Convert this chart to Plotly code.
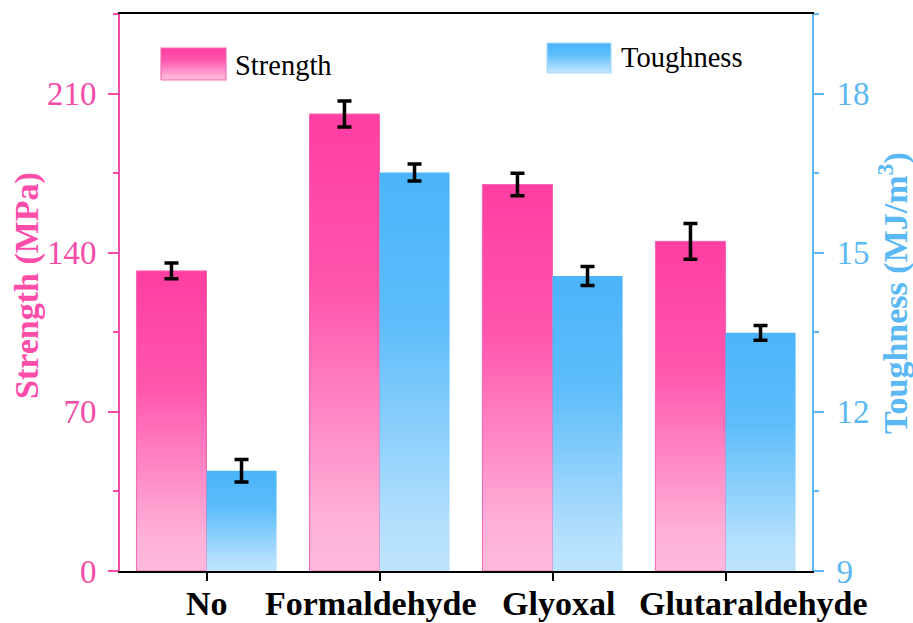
import plotly.graph_objects as go

# ---- data ----
categories = ["No", "Formaldehyde", "Glyoxal", "Glutaraldehyde"]
strength = [132, 201, 170, 145]          # MPa
strength_err = [3.5, 5.7, 4.9, 7.9]
toughness = [10.89, 16.51, 14.56, 13.49]  # MJ/m^3
toughness_err = [0.21, 0.16, 0.18, 0.14]

strength_ticks = [0, 70, 140, 210]
toughness_ticks = [9, 12, 15, 18]

# ---- styling ----
W, H = 913, 623
L, R, T, B = 120, 101, 14, 52
PW, PH = W - L - R, H - T - B
FONT = "Liberation Serif"
PINK = "#F54BA8"
PINK_TITLE = "#FF4DAA"
BLUE = "#5BB8F4"
BLUE_TITLE = "#5AB8F4"
BAR_W = 0.405
S_RANGE = [0, 245]
T_RANGE = [9, 19.5]
LABEL_SHIFT = [0, -9, 6, 28]   # horizontal nudges (px) of the category labels

pink_scale = [[0, "#FFB9DC"], [0.12, "#FFB0D8"], [0.62, "#FF55AD"], [1, "#FF3EA2"]]
blue_scale = [[0, "#BEE4FD"], [0.12, "#B3DFFD"], [0.62, "#5EBDFA"], [1, "#4BB4FA"]]


def px_x(px):
    return (px - L) / PW


def px_y(py):
    return (H - B - py) / PH


fig = go.Figure()

# bars drawn as filled rectangles so each one carries a vertical gradient
for i, v in enumerate(strength):
    x0, x1 = i - BAR_W, i
    fig.add_trace(go.Scatter(
        x=[x0, x0, x1, x1, x0], y=[0, v, v, 0, 0],
        mode="lines", fill="toself",
        line=dict(color="#F266B2", width=1),
        fillgradient=dict(type="vertical", colorscale=pink_scale, start=0, stop=v),
        hoverinfo="skip", showlegend=False, yaxis="y"))

for i, v in enumerate(toughness):
    x0, x1 = i, i + BAR_W
    fig.add_trace(go.Scatter(
        x=[x0, x0, x1, x1, x0], y=[T_RANGE[0], v, v, T_RANGE[0], T_RANGE[0]],
        mode="lines", fill="toself",
        line=dict(color="rgba(0,0,0,0)", width=0),
        fillgradient=dict(type="vertical", colorscale=blue_scale, start=T_RANGE[0], stop=v),
        hoverinfo="skip", showlegend=False, yaxis="y2"))

# error bars
err_style = dict(type="data", symmetric=True, color="black", thickness=3.5, width=7)
fig.add_trace(go.Scatter(
    x=[i - BAR_W / 2 for i in range(len(categories))], y=strength,
    mode="markers", marker=dict(size=1, color="rgba(0,0,0,0)"),
    error_y=dict(array=strength_err, **err_style),
    hoverinfo="skip", showlegend=False, yaxis="y"))
fig.add_trace(go.Scatter(
    x=[i + BAR_W / 2 for i in range(len(categories))], y=toughness,
    mode="markers", marker=dict(size=1, color="rgba(0,0,0,0)"),
    error_y=dict(array=toughness_err, **err_style),
    hoverinfo="skip", showlegend=False, yaxis="y2"))

# legend swatches on a hidden overlay axis (plot-area fractions)
legend_items = [
    ("Strength", (161, 226, 48, 80), pink_scale, "#F36FB5", 233, 65),
    ("Toughness", (547, 611, 43, 73), blue_scale, "#A9DAFB", 619, 58),
]
for name, (bx0, bx1, by0, by1), cs, edge, tx, ty in legend_items:
    xa, xb = px_x(bx0), px_x(bx1)
    ya, yb = px_y(by1), px_y(by0)
    fig.add_trace(go.Scatter(
        x=[xa, xa, xb, xb, xa], y=[ya, yb, yb, ya, ya],
        mode="lines", fill="toself", line=dict(color=edge, width=1.2),
        fillgradient=dict(type="vertical", colorscale=cs, start=ya, stop=yb),
        hoverinfo="skip", showlegend=False, xaxis="x3", yaxis="y3"))
    fig.add_annotation(
        text=name, xref="paper", yref="paper", x=px_x(tx), y=px_y(ty),
        xanchor="left", yanchor="middle", showarrow=False,
        font=dict(family=FONT, size=28.5, color="black"))

# category labels under the x ticks
for i, name in enumerate(categories):
    fig.add_annotation(
        text=name, xref="x", yref="paper", x=i, y=px_y(603),
        xshift=LABEL_SHIFT[i],
        xanchor="center", yanchor="middle", showarrow=False,
        font=dict(family=FONT, size=34, color="black", weight="bold"))

# axis titles
fig.add_annotation(
    text="Strength (MPa)", xref="paper", yref="paper",
    x=px_x(27), y=px_y(286), textangle=-90, showarrow=False,
    xanchor="center", yanchor="middle",
    font=dict(family=FONT, size=34, color=PINK_TITLE, weight="bold"))
fig.add_annotation(
    text="Toughness (MJ/m<sup>3</sup>)", xref="paper", yref="paper",
    x=px_x(893), y=px_y(293), textangle=-90, showarrow=False,
    xanchor="center", yanchor="middle",
    font=dict(family=FONT, size=34, color=BLUE_TITLE, weight="bold"))

fig.update_layout(
    width=W, height=H,
    margin=dict(l=L, r=R, t=T, b=B, autoexpand=False),
    paper_bgcolor="white", plot_bgcolor="white",
    showlegend=False,
    xaxis=dict(
        range=[-0.5, len(categories) - 0.5],
        tickvals=list(range(len(categories))), showticklabels=False,
        ticks="outside", ticklen=8, tickwidth=2, tickcolor="black",
        showline=True, linecolor="black", linewidth=2, mirror=True,
        showgrid=False, zeroline=False,
    ),
    yaxis=dict(
        range=S_RANGE, tickvals=strength_ticks,
        ticks="outside", ticklen=10, tickwidth=2, tickcolor=PINK,
        showline=True, linecolor=PINK, linewidth=2,
        minor=dict(dtick=35, tick0=0, ticks="outside", ticklen=5, tickwidth=2, tickcolor=PINK),
        showgrid=False, zeroline=False,
        tickfont=dict(family=FONT, size=33, color=PINK),
        ticklabelstandoff=5,
    ),
    yaxis2=dict(
        range=T_RANGE, tickvals=toughness_ticks, overlaying="y", side="right",
        ticks="outside", ticklen=10, tickwidth=2, tickcolor=BLUE,
        showline=True, linecolor=BLUE, linewidth=2,
        minor=dict(dtick=1.5, tick0=9, ticks="outside", ticklen=5, tickwidth=2, tickcolor=BLUE),
        showgrid=False, zeroline=False,
        tickfont=dict(family=FONT, size=33, color=BLUE),
        ticklabelstandoff=6,
    ),
    xaxis3=dict(range=[0, 1], overlaying="x", anchor="y3", visible=False, fixedrange=True),
    yaxis3=dict(range=[0, 1], overlaying="y", anchor="x3", visible=False, fixedrange=True),
)

fig.write_html("out.html")
